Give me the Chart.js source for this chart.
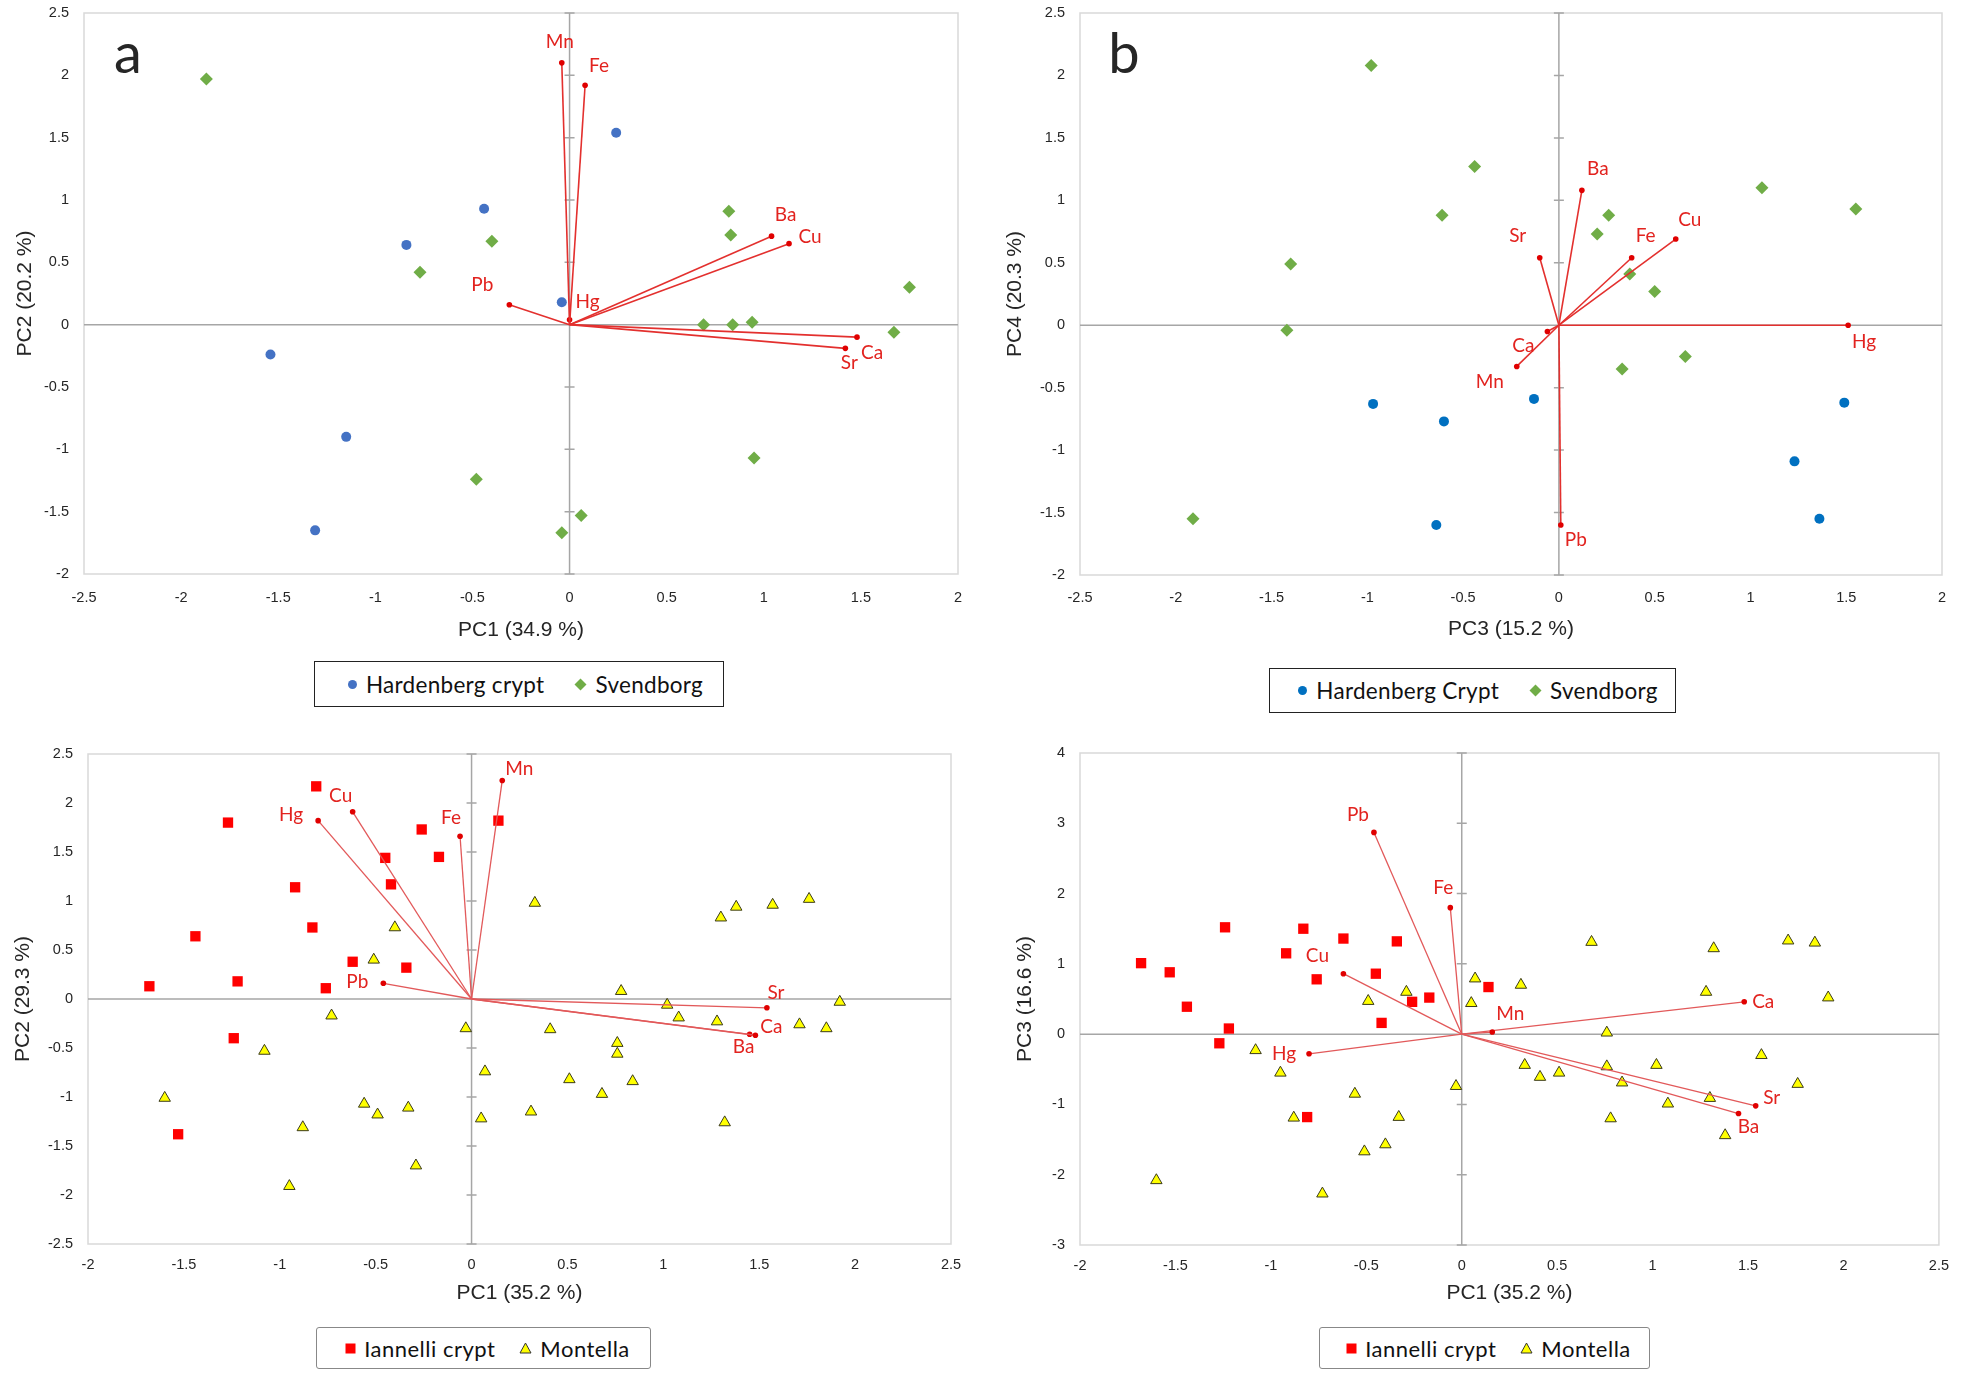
<!DOCTYPE html>
<html>
<head>
<meta charset="utf-8">
<script src="https://cdn.jsdelivr.net/npm/chart.js@4.4.0/dist/chart.umd.min.js"></script>
<style>
  body { margin: 0; background: #fff; width: 1961px; height: 1378px; position: relative; overflow: hidden; }
  canvas { position: absolute; }
  .legend { position: absolute; box-sizing: border-box; display: flex; align-items: center; justify-content: center;
            font-family: Lato, sans-serif; font-size: 22.5px; letter-spacing: 0.3px; color: #111; background: #fff; }
  .legend .item { display: flex; align-items: center; margin: 0 15px; }
  .legend svg { margin-right: 8px; }
  .legend.small { font-size: 22px; letter-spacing: 0.5px; }
  .legend.small .item { margin: 0 12px; }
</style>
</head>
<body>
<canvas id="pa" width="980" height="680" style="left:0;top:-20px"></canvas>
<canvas id="pb" width="981" height="680" style="left:980px;top:-20px"></canvas>
<canvas id="pc" width="980" height="620" style="left:0;top:700px"></canvas>
<canvas id="pd" width="981" height="620" style="left:980px;top:700px"></canvas>

<div class="legend" style="left:314px;top:661px;width:410px;height:46px;border:1.5px solid #222;padding-left:12px">
  <span class="item"><svg width="11" height="11"><circle cx="5.5" cy="5.5" r="4.5" fill="#4472C4"/></svg>Hardenberg crypt</span>
  <span class="item"><svg width="13" height="13"><polygon points="6.5,0.5 12.5,6.5 6.5,12.5 0.5,6.5" fill="#70AD47"/></svg>Svendborg</span>
</div>
<div class="legend" style="left:1269px;top:668px;width:407px;height:45px;border:1.5px solid #222;padding-left:10px">
  <span class="item"><svg width="11" height="11"><circle cx="5.5" cy="5.5" r="4.5" fill="#0070C0"/></svg>Hardenberg Crypt</span>
  <span class="item"><svg width="13" height="13"><polygon points="6.5,0.5 12.5,6.5 6.5,12.5 0.5,6.5" fill="#70AD47"/></svg>Svendborg</span>
</div>
<div class="legend small" style="left:316px;top:1327px;width:335px;height:42px;border:1.5px solid #888;border-radius:3px;padding-left:8px">
  <span class="item"><svg width="11" height="11"><rect x="0.5" y="0.5" width="10" height="10" fill="#FF0000"/></svg>Iannelli crypt</span>
  <span class="item"><svg width="13" height="12"><polygon points="6.5,1 12,11 1,11" fill="#FFFF00" stroke="#333" stroke-width="1"/></svg>Montella</span>
</div>
<div class="legend small" style="left:1319px;top:1327px;width:331px;height:42px;border:1.5px solid #888;border-radius:3px;padding-left:8px">
  <span class="item"><svg width="11" height="11"><rect x="0.5" y="0.5" width="10" height="10" fill="#FF0000"/></svg>Iannelli crypt</span>
  <span class="item"><svg width="13" height="12"><polygon points="6.5,1 12,11 1,11" fill="#FFFF00" stroke="#333" stroke-width="1"/></svg>Montella</span>
</div>

<script>
// ---- panel a: PC1 vs PC2 (Hardenberg / Svendborg) ----
const hardA_pc1 = [0.24, -0.44, -0.84, -0.04, -1.54, -1.15, -1.31];
const hardA_pc2 = [1.54, 0.93, 0.64, 0.18, -0.24, -0.90, -1.65];
const svenA_pc1 = [-1.87, 0.82, 0.83, -0.40, -0.77, 1.75, 0.69, 0.84, 0.94, 1.67, 0.95, -0.48, 0.06, -0.04];
const svenA_pc2 = [1.97, 0.91, 0.72, 0.67, 0.42, 0.30, 0.00, 0.00, 0.02, -0.06, -1.07, -1.24, -1.53, -1.67];
const elemA = ['Mn', 'Fe', 'Ba', 'Cu', 'Pb', 'Hg', 'Ca', 'Sr'];
const loadA_pc1 = [-0.04, 0.08, 1.04, 1.13, -0.31, 0.00, 1.48, 1.42];
const loadA_pc2 = [2.10, 1.92, 0.71, 0.65, 0.16, 0.04, -0.10, -0.19];

// ---- panel b: PC3 vs PC4 ----
const hardB_pc3 = [-0.97, -0.60, -0.13, -0.64, 1.49, 1.23, 1.36];
const hardB_pc4 = [-0.63, -0.77, -0.59, -1.60, -0.62, -1.09, -1.55];
const svenB_pc3 = [-0.98, -0.44, -0.61, -1.40, -1.42, 0.26, 0.20, 0.37, 0.50, 1.06, 1.55, 0.66, 0.33, -1.91];
const svenB_pc4 = [2.08, 1.27, 0.88, 0.49, -0.04, 0.88, 0.73, 0.41, 0.27, 1.10, 0.93, -0.25, -0.35, -1.55];
const elemB = ['Ba', 'Sr', 'Fe', 'Cu', 'Hg', 'Ca', 'Mn', 'Pb'];
const loadB_pc3 = [0.12, -0.10, 0.38, 0.61, 1.51, -0.06, -0.22, 0.01];
const loadB_pc4 = [1.08, 0.54, 0.54, 0.69, 0.00, -0.05, -0.33, -1.60];

// ---- panels c and d: Iannelli / Montella, PC1 vs PC2 and PC1 vs PC3 ----
const iann_pc1 = [-1.68, -1.53, -1.44, -1.27, -1.24, -1.22, -0.92, -0.83, -0.81, -0.76, -0.62, -0.45, -0.42, -0.34, -0.26, -0.17, 0.14];
const iann_pc2 = [0.13, -1.38, 0.64, 1.80, -0.40, 0.18, 1.14, 0.73, 2.17, 0.11, 0.38, 1.44, 1.17, 0.32, 1.73, 1.45, 1.82];
const iann_pc3 = [1.01, 0.88, 0.39, -0.13, 1.52, 0.08, 1.15, 1.50, -1.18, 0.78, 1.36, 0.86, 0.16, 1.32, 0.46, 0.52, 0.67];
const mont_pc1 = [-1.60, -1.08, -0.95, -0.88, -0.73, -0.56, -0.51, -0.49, -0.40, -0.33, -0.29, -0.03, 0.05, 0.07, 0.31, 0.33, 0.41, 0.51, 0.68, 0.76, 0.76, 0.78, 0.84, 1.02, 1.08, 1.28, 1.30, 1.32, 1.38, 1.57, 1.71, 1.76, 1.85, 1.92];
const mont_pc2 = [-1.01, -0.53, -1.91, -1.31, -0.17, -1.07, 0.40, -1.18, 0.73, -1.11, -1.70, -0.30, -1.22, -0.74, -1.15, 0.98, -0.31, -0.82, -0.97, -0.45, -0.56, 0.08, -0.84, -0.06, -0.19, -0.23, 0.83, -1.26, 0.94, 0.96, -0.26, 1.02, -0.30, -0.03];
const mont_pc3 = [-2.08, -0.23, -0.55, -1.19, -2.27, -0.85, -1.67, 0.47, -1.57, -1.18, 0.60, -0.74, 0.44, 0.79, 0.70, -0.44, -0.61, -0.55, 1.31, 0.02, -0.46, -1.20, -0.69, -0.44, -0.99, 0.60, -0.91, 1.22, -1.44, -0.30, 1.33, -0.71, 1.30, 0.52];
const elemCD = ['Mn', 'Cu', 'Hg', 'Fe', 'Pb', 'Sr', 'Ca', 'Ba'];
const loadCD_pc1 = [0.16, -0.62, -0.80, -0.06, -0.46, 1.54, 1.48, 1.45];
const loadCD_pc2 = [2.23, 1.91, 1.82, 1.66, 0.16, -0.09, -0.37, -0.36];
const loadCD_pc3 = [0.03, 0.86, -0.28, 1.80, 2.87, -1.02, 0.46, -1.13];

Chart.defaults.font.family = '"Liberation Sans", Arial, sans-serif';
Chart.defaults.animation = false;

const zip = (xs, ys) => xs.map((v, i) => ({ x: v, y: ys[i] }));
const fmt = v => String(Math.round(v * 100) / 100);

// loading vectors drawn as two-point lines from the origin
function vectors(xs, ys, lineColor, width) {
  return xs.map((v, i) => ({
    data: [{ x: 0, y: 0 }, { x: v, y: ys[i] }],
    showLine: true,
    borderColor: lineColor,
    borderWidth: width,
    pointRadius: [0, 2.8],
    pointHoverRadius: [0, 2.8],
    pointBackgroundColor: '#e00000',
    pointBorderWidth: 0
  }));
}

const biplot = {
  id: 'biplot',
  beforeDatasetsDraw(chart, args, o) {
    const { ctx, chartArea: a, scales: { x, y } } = chart;
    ctx.save();
    ctx.strokeStyle = '#d9d9d9';
    ctx.lineWidth = 1.5;
    ctx.strokeRect(a.left, a.top, a.right - a.left, a.bottom - a.top);
    const x0 = x.getPixelForValue(0), y0 = y.getPixelForValue(0);
    ctx.strokeStyle = '#a6a6a6';
    ctx.beginPath();
    ctx.moveTo(x0, a.top); ctx.lineTo(x0, a.bottom);
    ctx.moveTo(a.left, y0); ctx.lineTo(a.right, y0);
    y.ticks.forEach(t => {
      const py = y.getPixelForValue(t.value);
      ctx.moveTo(x0 - 5, py); ctx.lineTo(x0 + 5, py);
    });
    ctx.stroke();
    ctx.restore();
  },
  afterDatasetsDraw(chart, args, o) {
    const { ctx, chartArea: a, scales: { x, y } } = chart;
    ctx.save();
    // element labels
    ctx.fillStyle = '#e2231f';
    ctx.font = '19px Lato';
    ctx.textAlign = 'center';
    ctx.textBaseline = 'middle';
    o.names.forEach((n, i) => {
      const off = o.offsets[n];
      ctx.fillText(n, x.getPixelForValue(o.lx[i]) + off[0], y.getPixelForValue(o.ly[i]) + off[1]);
    });
    // axis titles
    ctx.fillStyle = '#262626';
    ctx.font = '21px "Liberation Sans"';
    ctx.fillText(o.xTitle, (a.left + a.right) / 2, a.bottom + o.xGap);
    ctx.translate(a.left - o.yGap, (a.top + a.bottom) / 2);
    ctx.rotate(-Math.PI / 2);
    ctx.fillText(o.yTitle, 0, 0);
    ctx.restore();
    if (o.letter) {
      ctx.save();
      ctx.fillStyle = '#262626';
      ctx.font = '56px Lato';
      ctx.textAlign = 'center';
      ctx.textBaseline = 'alphabetic';
      ctx.fillText(o.letter, a.left + 44, a.top + 60);
      ctx.restore();
    }
  }
};

function axis(min, max, step, pad, fit) {
  return {
    type: 'linear', min: min, max: max,
    ticks: { stepSize: step, padding: pad, color: '#262626', font: { size: 14.5 }, autoSkip: false, callback: fmt },
    grid: { display: false, drawTicks: false },
    border: { display: false },
    afterFit: fit
  };
}

function makePanel(id, p) {
  return new Chart(document.getElementById(id), {
    type: 'scatter',
    data: { datasets: p.datasets },
    options: {
      responsive: false,
      devicePixelRatio: 1,
      layout: { autoPadding: false, padding: { left: 0, top: p.top, right: p.right, bottom: 0 } },
      scales: {
        x: axis(p.x[0], p.x[1], p.x[2], p.xPad, s => { s.height = p.xH; }),
        y: axis(p.y[0], p.y[1], p.y[2], 15, s => { s.width = p.left; })
      },
      plugins: { legend: { display: false }, tooltip: { enabled: false }, biplot: p.labels }
    },
    plugins: [biplot]
  });
}

const circle = (pts, color) => ({ data: pts, pointStyle: 'circle', pointRadius: 5, backgroundColor: color, borderColor: color, borderWidth: 0 });
const diamond = pts => ({ data: pts, pointStyle: 'rectRot', pointRadius: 6.5, backgroundColor: '#70AD47', borderColor: '#70AD47', borderWidth: 0 });
const square = pts => ({ data: pts, pointStyle: 'rect', pointRadius: 7.3, backgroundColor: '#FF0000', borderColor: '#FF0000', borderWidth: 0 });
const triangle = pts => ({ data: pts, pointStyle: 'triangle', pointRadius: 6.6, backgroundColor: '#FFFF00', borderColor: '#3a3a1a', borderWidth: 1 });

// canvases a and b start 20px above the page, so chart top 33 lands at page y 13
makePanel('pa', {
  top: 33, right: 22, left: 84, xH: 86, xPad: 15,
  x: [-2.5, 2, 0.5], y: [-2, 2.5, 0.5],
  datasets: [...vectors(loadA_pc1, loadA_pc2, '#e3302e', 1.6), circle(zip(hardA_pc1, hardA_pc2), '#4472C4'), diamond(zip(svenA_pc1, svenA_pc2))],
  labels: {
    names: elemA, lx: loadA_pc1, ly: loadA_pc2,
    offsets: { Mn: [-2, -21], Fe: [14, -19], Ba: [14, -21], Cu: [21, -7], Pb: [-27, -20], Hg: [18, -18], Ca: [15, 16], Sr: [4, 15] },
    xTitle: 'PC1 (34.9 %)', yTitle: 'PC2 (20.2 %)', xGap: 56, yGap: 59, letter: 'a'
  }
});

makePanel('pb', {
  top: 33, right: 19, left: 100, xH: 85, xPad: 14,
  x: [-2.5, 2, 0.5], y: [-2, 2.5, 0.5],
  datasets: [...vectors(loadB_pc3, loadB_pc4, '#e3302e', 1.6), circle(zip(hardB_pc3, hardB_pc4), '#0070C0'), diamond(zip(svenB_pc3, svenB_pc4))],
  labels: {
    names: elemB, lx: loadB_pc3, ly: loadB_pc4,
    offsets: { Ba: [16, -21], Sr: [-22, -22], Fe: [14, -22], Cu: [14, -19], Hg: [16, 17], Ca: [-24, 14], Mn: [-27, 15], Pb: [15, 15] },
    xTitle: 'PC3 (15.2 %)', yTitle: 'PC4 (20.3 %)', xGap: 54, yGap: 65, letter: 'b'
  }
});

makePanel('pc', {
  top: 54, right: 29, left: 88, xH: 76, xPad: 12,
  x: [-2, 2.5, 0.5], y: [-2.5, 2.5, 0.5],
  datasets: [...vectors(loadCD_pc1, loadCD_pc2, '#e2595a', 1.3), square(zip(iann_pc1, iann_pc2)), triangle(zip(mont_pc1, mont_pc2))],
  labels: {
    names: elemCD, lx: loadCD_pc1, ly: loadCD_pc2,
    offsets: { Mn: [17, -12], Cu: [-12, -16], Hg: [-27, -6], Fe: [-9, -18], Pb: [-26, -1], Sr: [9, -15], Ca: [16, -8], Ba: [-6, 13] },
    xTitle: 'PC1 (35.2 %)', yTitle: 'PC2 (29.3 %)', xGap: 49, yGap: 65
  }
});

makePanel('pd', {
  top: 53, right: 19, left: 100, xH: 75, xPad: 12,
  x: [-2, 2.5, 0.5], y: [-3, 4, 1],
  datasets: [...vectors(loadCD_pc1, loadCD_pc3, '#e2595a', 1.3), square(zip(iann_pc1, iann_pc3)), triangle(zip(mont_pc1, mont_pc3))],
  labels: {
    names: elemCD, lx: loadCD_pc1, ly: loadCD_pc3,
    offsets: { Pb: [-16, -18], Fe: [-7, -20], Cu: [-26, -18], Hg: [-25, 0], Mn: [18, -18], Ca: [19, 0], Sr: [16, -8], Ba: [10, 13] },
    xTitle: 'PC1 (35.2 %)', yTitle: 'PC3 (16.6 %)', xGap: 48, yGap: 55
  }
});
</script>
</body>
</html>
